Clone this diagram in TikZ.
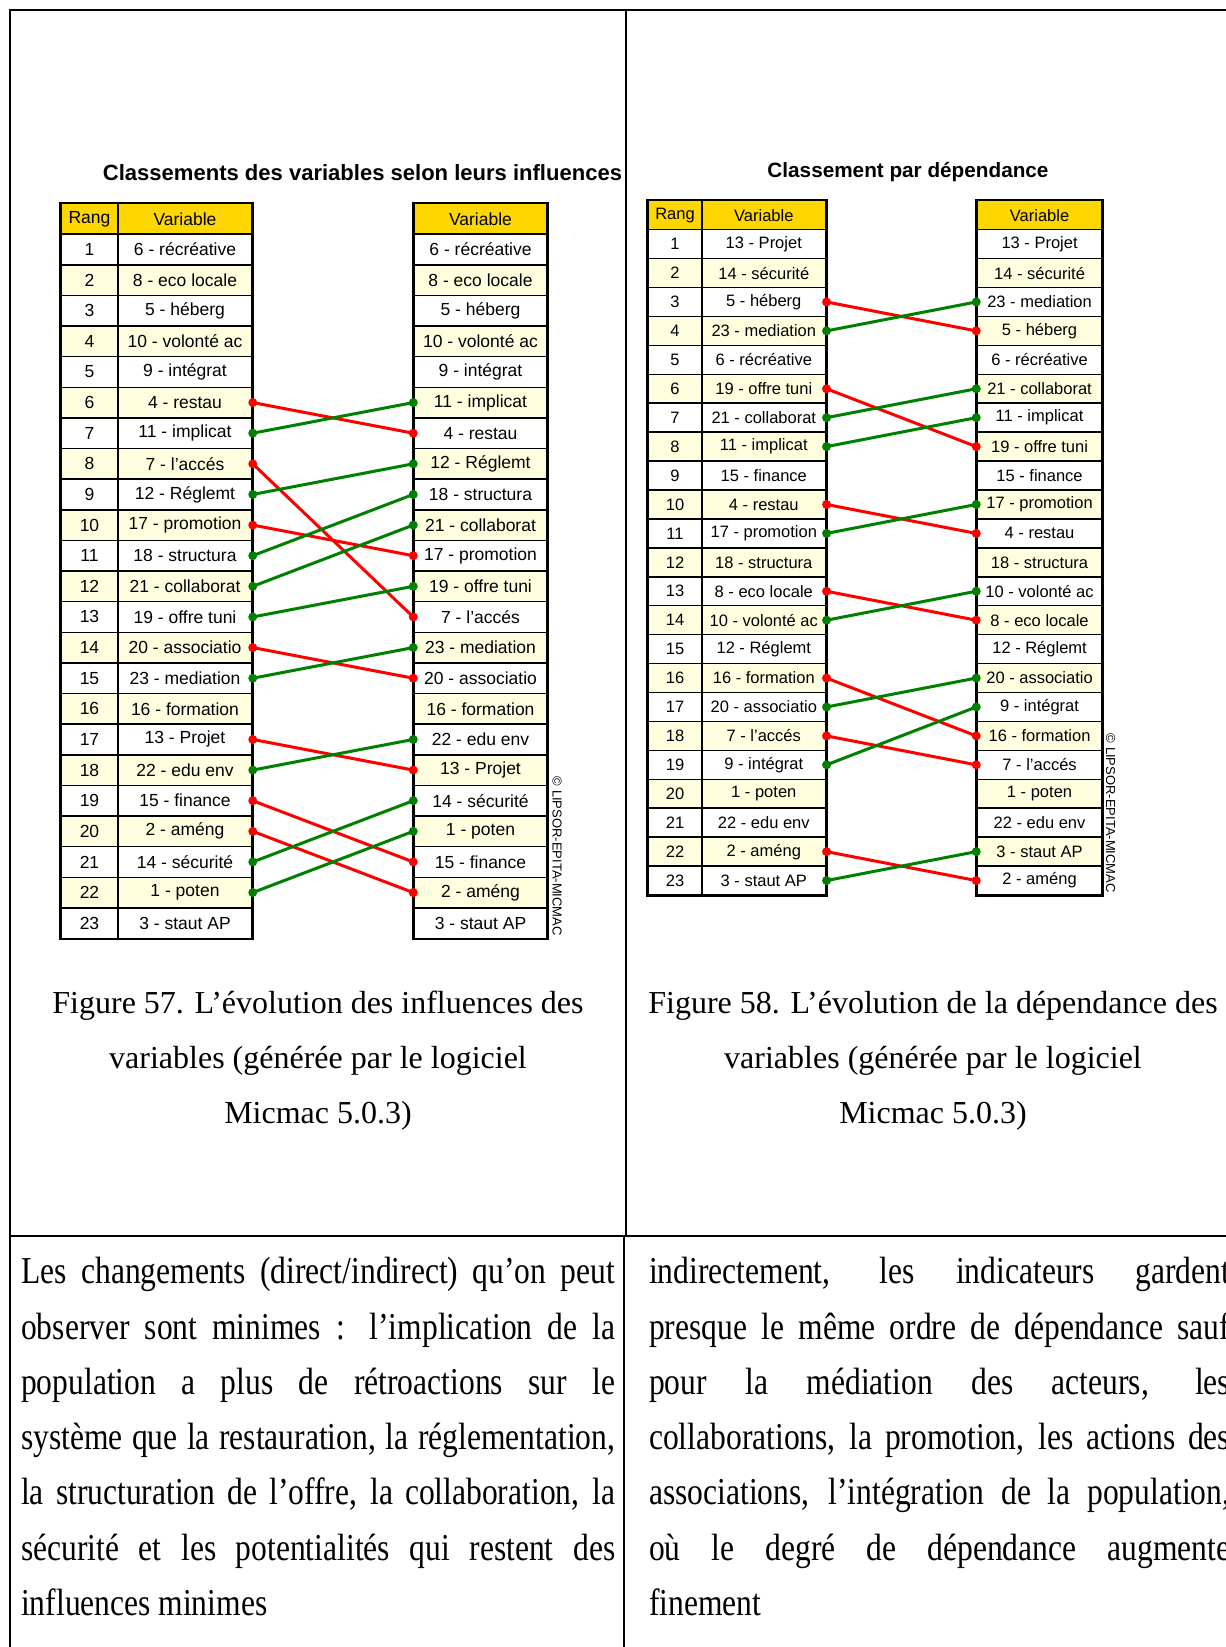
\documentclass[tikz,border=0pt]{standalone}
\usepackage{fontspec}
\setmainfont{Liberation Serif}
\setsansfont{Liberation Sans}
\newfontfamily\bodyfont[FakeStretch=0.83]{Liberation Serif}
\usepackage{graphicx}
\definecolor{hdr}{RGB}{255,215,0}
\definecolor{altrow}{RGB}{255,255,224}
\definecolor{lkred}{RGB}{255,0,0}
\definecolor{lkgreen}{RGB}{0,128,0}
\newcommand\mylink[3]{\draw[line width=3pt,#1] (#2) -- (#3); \fill[#1] (#2) circle (4.5pt); \fill[#1] (#3) circle (4.5pt);}
\tikzset{
  frameln/.style={line width=2pt},
  cellA/.style={draw=black, line width=1.5pt, inner sep=0pt, minimum height=30.625pt, font=\sffamily\fontsize{17.5}{18}\selectfont},
  cellB/.style={draw=black, line width=1.5pt, inner sep=0pt, minimum height=28.93pt, font=\sffamily\fontsize{16.5}{17}\selectfont},
  tabout/.style={draw=black, line width=2.2pt},
  capline/.style={anchor=base, inner sep=0pt, font=\fontsize{32}{38}\selectfont},
  bodyln/.style={anchor=base west, inner sep=0pt, font=\bodyfont\fontsize{38}{44}\selectfont},
  copyr/.style={rotate=-90, anchor=east, inner sep=0pt, font=\sffamily\fontsize{13}{13}\selectfont}
}
\begin{document}
\begin{tikzpicture}[x=1pt,y=-1pt]
\useasboundingbox (0,0) rectangle (1226,1647);
\clip (0,0) rectangle (1226,1647);
\fill[white] (0,0) rectangle (1226,1647);

% frame
\draw[frameln] (10,1660) -- (10,10) -- (1250,10);
\draw[frameln] (626,10) -- (626,1236);
\draw[frameln] (624,1236) -- (624,1660);
\draw[frameln] (10,1236) -- (1250,1236);

% titles
\node (tA) at (362.5,173) {\resizebox{519pt}{!}{\sffamily\bfseries Classements des variables selon leurs influences}};
\node (tB) at (908,172) {\resizebox{281pt}{!}{\sffamily\bfseries Classement par dépendance}};

% ---------- influences tables ----------
\node[cellA, fill=hdr, minimum width=57pt] (ir0) at (89.5,218.81) {Rang};
\node[cellA, fill=hdr, minimum width=134pt] (ia0) at (185,218.81) {Variable};
\node[cellA, fill=hdr, minimum width=133pt] (ib0) at (480.5,218.81) {Variable};
\foreach \v [count=\i] in {6 - récréative,8 - eco locale,5 - héberg,10 - volonté ac,9 - intégrat,4 - restau,11 - implicat,7 - l'accés,12 - Réglemt,17 - promotion,18 - structura,21 - collaborat,19 - offre tuni,20 - associatio,23 - mediation,16 - formation,13 - Projet,22 - edu env,15 - finance,2 - améng,14 - sécurité,1 - poten,3 - staut AP}{
  \ifodd\i\relax\def\fc{white}\else\def\fc{altrow}\fi
  \node[cellA, fill=\fc, minimum width=57pt] (ir\i) at (89.5,{203.5+30.625*(\i+0.5)}) {\i};
  \node[cellA, fill=\fc, minimum width=134pt] (ia\i) at (185,{203.5+30.625*(\i+0.5)}) {\v};
}
\foreach \v [count=\i] in {6 - récréative,8 - eco locale,5 - héberg,10 - volonté ac,9 - intégrat,11 - implicat,4 - restau,12 - Réglemt,18 - structura,21 - collaborat,17 - promotion,19 - offre tuni,7 - l'accés,23 - mediation,20 - associatio,16 - formation,22 - edu env,13 - Projet,14 - sécurité,1 - poten,15 - finance,2 - améng,3 - staut AP}{
  \ifodd\i\relax\def\fc{white}\else\def\fc{altrow}\fi
  \node[cellA, fill=\fc, minimum width=133pt] (ib\i) at (480.5,{203.5+30.625*(\i+0.5)}) {\v};
}
\draw[tabout] (ir0.north west) rectangle (ia23.south east);
\draw[tabout] (ib0.north west) rectangle (ib23.south east);

\mylink{lkred}{ia6.east}{ib7.west}
\mylink{lkgreen}{ia7.east}{ib6.west}
\mylink{lkred}{ia8.east}{ib13.west}
\mylink{lkgreen}{ia9.east}{ib8.west}
\mylink{lkred}{ia10.east}{ib11.west}
\mylink{lkgreen}{ia11.east}{ib9.west}
\mylink{lkgreen}{ia12.east}{ib10.west}
\mylink{lkgreen}{ia13.east}{ib12.west}
\mylink{lkred}{ia14.east}{ib15.west}
\mylink{lkgreen}{ia15.east}{ib14.west}
\mylink{lkred}{ia17.east}{ib18.west}
\mylink{lkgreen}{ia18.east}{ib17.west}
\mylink{lkred}{ia19.east}{ib21.west}
\mylink{lkred}{ia20.east}{ib22.west}
\mylink{lkgreen}{ia21.east}{ib19.west}
\mylink{lkgreen}{ia22.east}{ib20.west}

\node[copyr] (cpA) at (557,936) {© LIPSOR-EPITA-MICMAC};

% ---------- dependance tables ----------
\node[cellB, fill=hdr, minimum width=53.6pt] (dr0) at (675,215.17) {Rang};
\node[cellB, fill=hdr, minimum width=124pt] (da0) at (763.8,215.17) {Variable};
\node[cellB, fill=hdr, minimum width=125.1pt] (db0) at (1039.55,215.17) {Variable};
\foreach \v [count=\i] in {13 - Projet,14 - sécurité,5 - héberg,23 - mediation,6 - récréative,19 - offre tuni,21 - collaborat,11 - implicat,15 - finance,4 - restau,17 - promotion,18 - structura,8 - eco locale,10 - volonté ac,12 - Réglemt,16 - formation,20 - associatio,7 - l'accés,9 - intégrat,1 - poten,22 - edu env,2 - améng,3 - staut AP}{
  \ifodd\i\relax\def\fc{white}\else\def\fc{altrow}\fi
  \node[cellB, fill=\fc, minimum width=53.6pt] (dr\i) at (675,{200.7+28.93*(\i+0.5)}) {\i};
  \node[cellB, fill=\fc, minimum width=124pt] (da\i) at (763.8,{200.7+28.93*(\i+0.5)}) {\v};
}
\foreach \v [count=\i] in {13 - Projet,14 - sécurité,23 - mediation,5 - héberg,6 - récréative,21 - collaborat,11 - implicat,19 - offre tuni,15 - finance,17 - promotion,4 - restau,18 - structura,10 - volonté ac,8 - eco locale,12 - Réglemt,20 - associatio,9 - intégrat,16 - formation,7 - l'accés,1 - poten,22 - edu env,3 - staut AP,2 - améng}{
  \ifodd\i\relax\def\fc{white}\else\def\fc{altrow}\fi
  \node[cellB, fill=\fc, minimum width=125.1pt] (db\i) at (1039.55,{200.7+28.93*(\i+0.5)}) {\v};
}
\draw[tabout] (dr0.north west) rectangle (da23.south east);
\draw[tabout] (db0.north west) rectangle (db23.south east);

\mylink{lkred}{da3.east}{db4.west}
\mylink{lkgreen}{da4.east}{db3.west}
\mylink{lkred}{da6.east}{db8.west}
\mylink{lkgreen}{da7.east}{db6.west}
\mylink{lkgreen}{da8.east}{db7.west}
\mylink{lkred}{da10.east}{db11.west}
\mylink{lkgreen}{da11.east}{db10.west}
\mylink{lkred}{da13.east}{db14.west}
\mylink{lkgreen}{da14.east}{db13.west}
\mylink{lkred}{da16.east}{db18.west}
\mylink{lkgreen}{da17.east}{db16.west}
\mylink{lkred}{da18.east}{db19.west}
\mylink{lkgreen}{da19.east}{db17.west}
\mylink{lkred}{da22.east}{db23.west}
\mylink{lkgreen}{da23.east}{db22.west}

\node[copyr] (cpB) at (1110.5,893) {© LIPSOR-EPITA-MICMAC};

% ---------- captions ----------
\node[capline] (capA1) at (318,1013) {Figure 57. L’évolution des influences des};
\node[capline] (capA2) at (318,1068) {variables (générée par le logiciel};
\node[capline] (capA3) at (318,1123) {Micmac 5.0.3)};
\node[capline] (capB1) at (933,1013) {Figure 58. L’évolution de la dépendance des};
\node[capline] (capB2) at (933,1068) {variables (générée par le logiciel};
\node[capline] (capB3) at (933,1123) {Micmac 5.0.3)};

% ---------- body text ----------
\node[bodyln] (bA1) at (21,1283) {\makebox[594pt][s]{Les changements (direct/indirect) qu’on peut}};
\node[bodyln] (bA2) at (21,1339) {\makebox[594pt][s]{observer sont minimes : l’implication de la}};
\node[bodyln] (bA3) at (21,1394) {\makebox[594pt][s]{population a plus de rétroactions sur le}};
\node[bodyln] (bA4) at (21,1449) {\makebox[594pt][s]{système que la restauration, la réglementation,}};
\node[bodyln] (bA5) at (21,1504) {\makebox[594pt][s]{la structuration de l’offre, la collaboration, la}};
\node[bodyln] (bA6) at (21,1560) {\makebox[594pt][s]{sécurité et les potentialités qui restent des}};
\node[bodyln] (bA7) at (21,1615) {influences minimes};

\node[bodyln] (bB1) at (649,1283) {\makebox[581pt][s]{indirectement, les indicateurs gardent}};
\node[bodyln] (bB2) at (649,1339) {\makebox[581pt][s]{presque le même ordre de dépendance sauf}};
\node[bodyln] (bB3) at (649,1394) {\makebox[581pt][s]{pour la médiation des acteurs, les}};
\node[bodyln] (bB4) at (649,1449) {\makebox[581pt][s]{collaborations, la promotion, les actions des}};
\node[bodyln] (bB5) at (649,1504) {\makebox[581pt][s]{associations, l’intégration de la population,}};
\node[bodyln] (bB6) at (649,1560) {\makebox[581pt][s]{où le degré de dépendance augmente}};
\node[bodyln] (bB7) at (649,1615) {finement};
\end{tikzpicture}
\end{document}
